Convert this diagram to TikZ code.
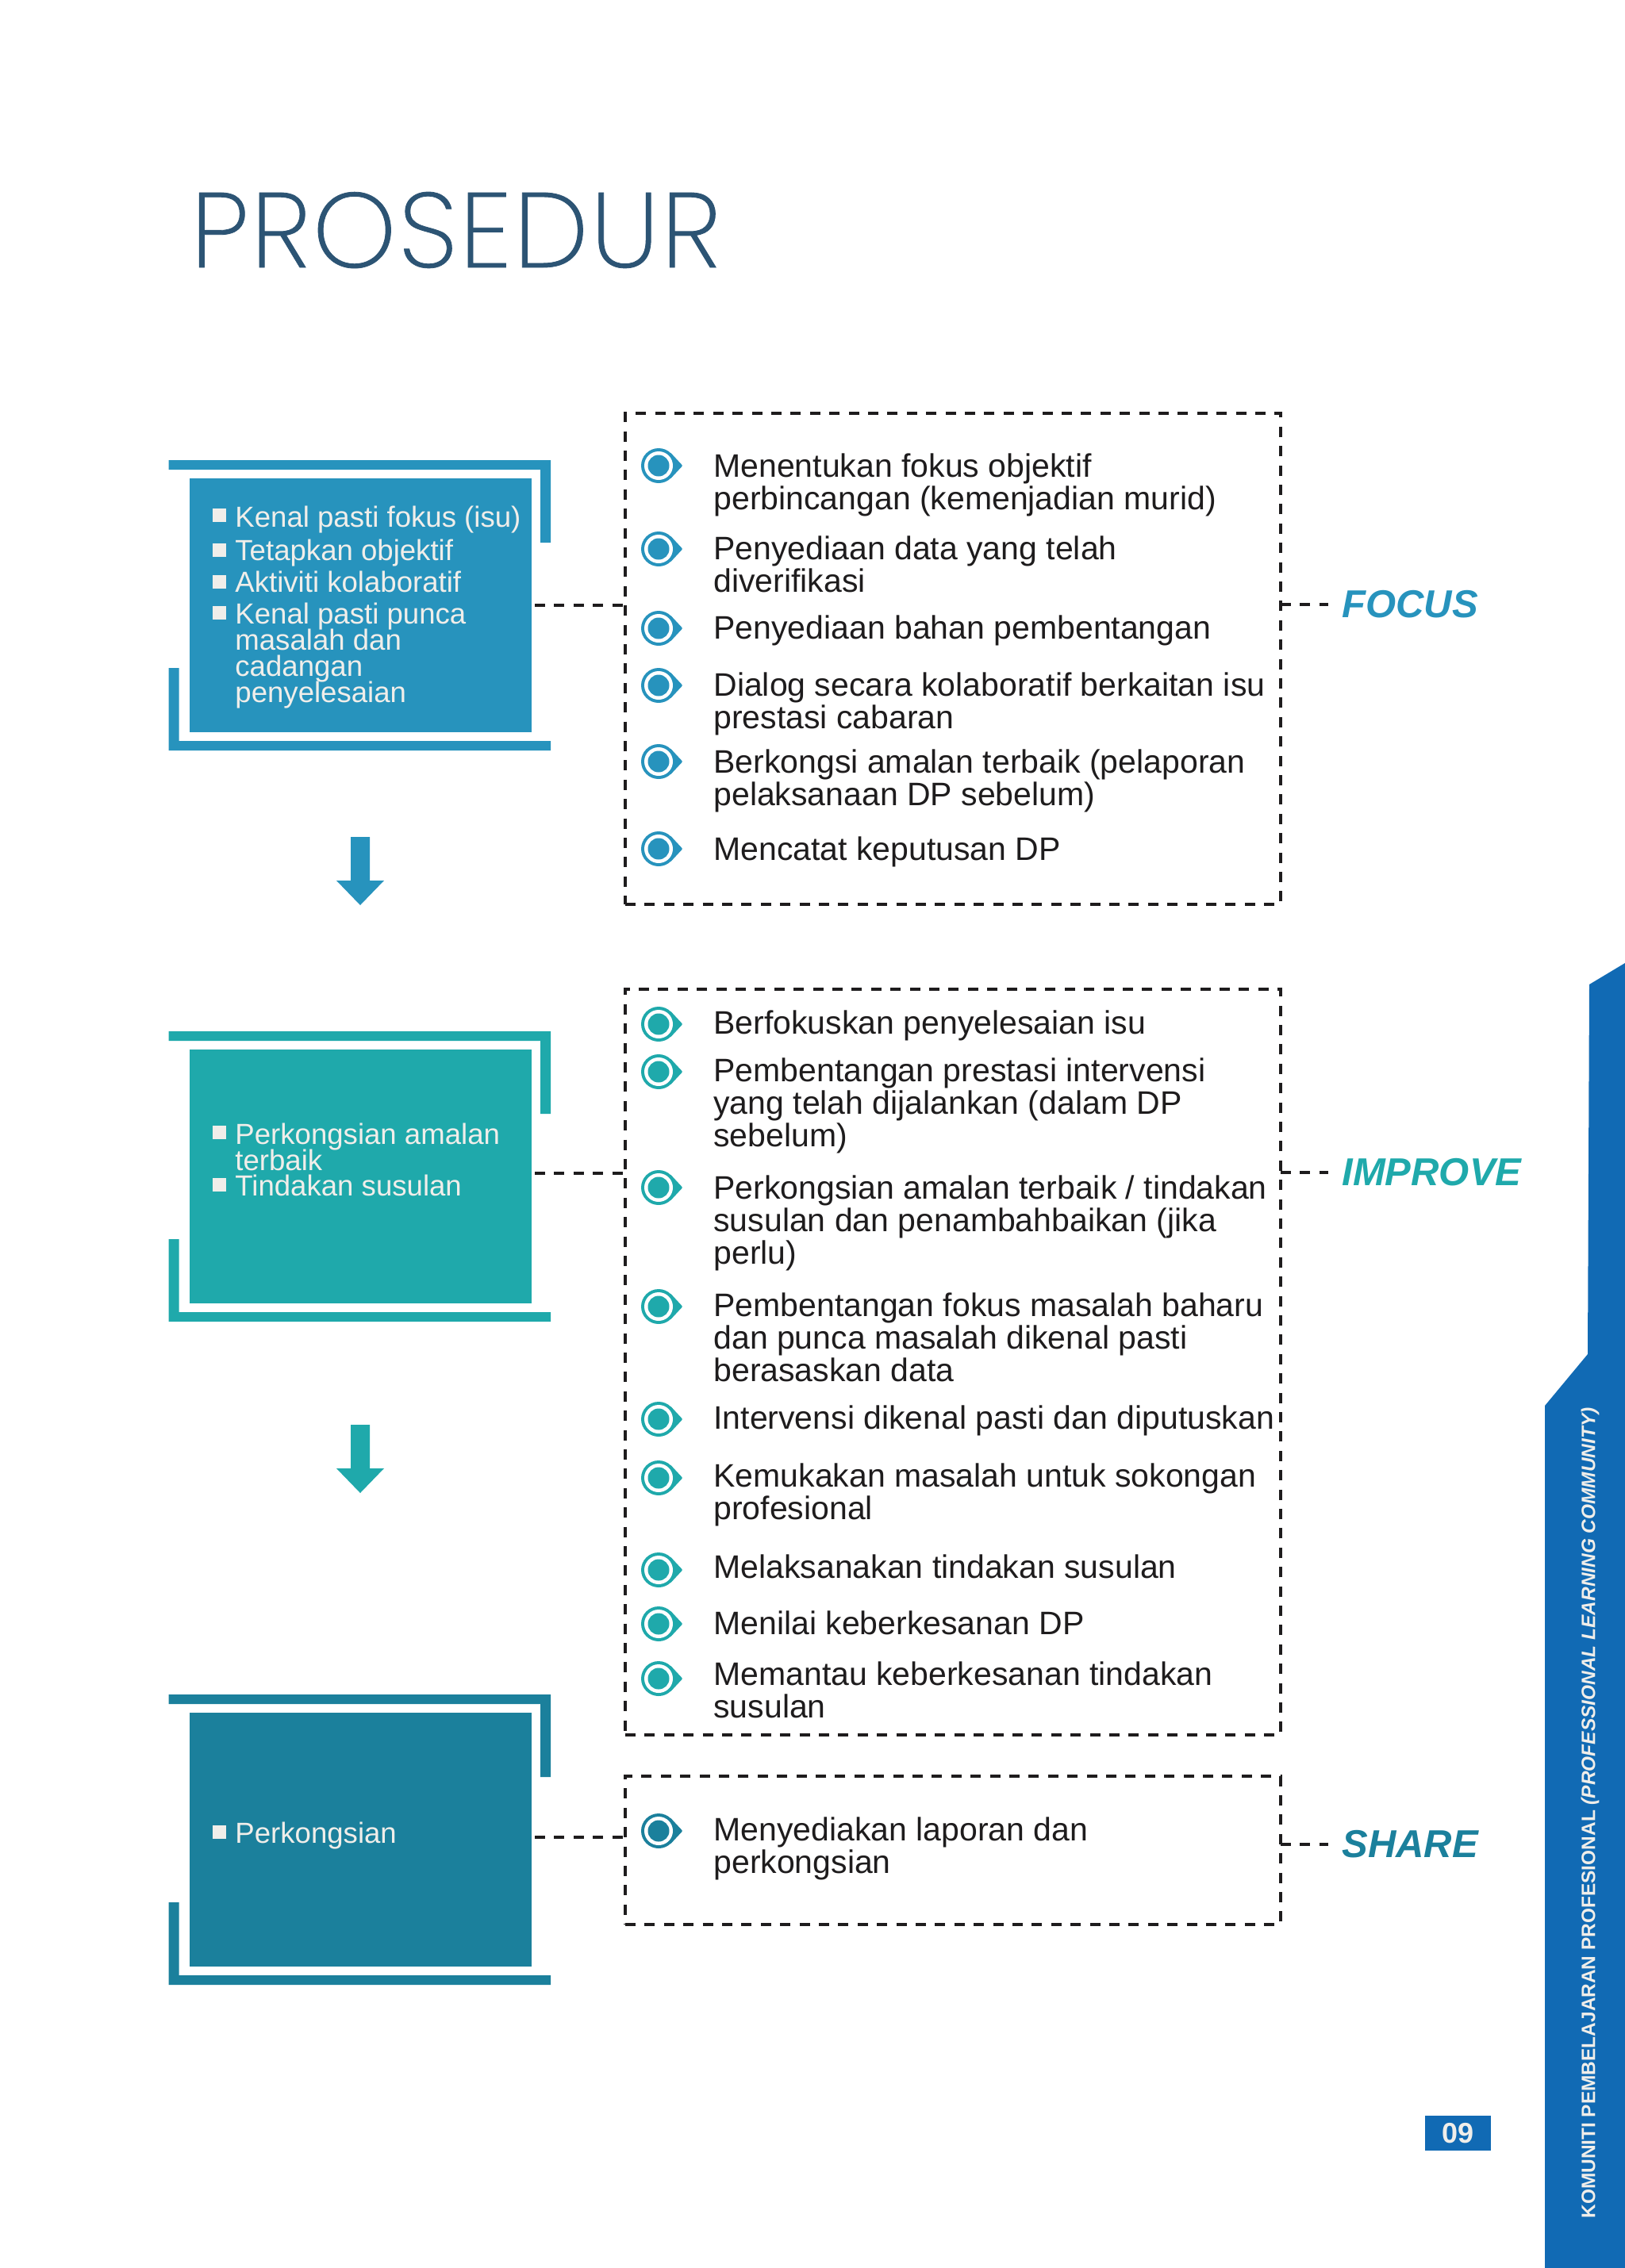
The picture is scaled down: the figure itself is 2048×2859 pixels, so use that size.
\documentclass[tikz,border=0pt]{standalone}
\usepackage{fontspec}
\setmainfont{Liberation Sans}
\newfontfamily\titlefont[FakeBold=0.6,LetterSpace=1.9]{Poppins ExtraLight}
\definecolor{cfocus}{HTML}{2793BD}
\definecolor{cimprove}{HTML}{1FA9AB}
\definecolor{cshare}{HTML}{1B809C}
\definecolor{cside}{HTML}{116AB4}
\definecolor{cinktext}{HTML}{1E1C1D}
\definecolor{cpale}{HTML}{F0EEEA}
\definecolor{ctitle}{HTML}{2C5474}
\AtBeginDocument{\lineskiplimit=-30pt\relax\normallineskiplimit=-30pt\relax}
\tikzset{
  boxnode/.style={fill=#1,minimum width=215.5pt,minimum height=160pt,inner sep=0pt,outer sep=0pt},
  dashline/.style={draw=cinktext,line width=2.1pt,dash pattern=on 6.5pt off 5.7pt},
  dashbox/.style={dashline,inner sep=0pt,outer sep=0pt,minimum width=413pt},
  itemtext/.style={anchor=north west,inner sep=0pt,align=left,text=cinktext,font=\fontsize{20.5}{20.4}\selectfont},
  whitetext/.style={anchor=north west,inner sep=0pt,align=left,text=cpale,font=\fontsize{18.3}{16.5}\selectfont},
  steplabel/.style={anchor=west,inner sep=0pt,text=#1,font=\fontsize{24.5}{24.5}\selectfont\bfseries\itshape},
  bulletsq/.style={fill=cpale,minimum size=8.5pt,inner sep=0pt},
  eye/.pic={
    \fill[#1] (0,0) circle[radius=22];
    \fill[#1,line join=round,draw=#1,line width=1pt] (15,-15) -- (29,0) -- (15,15) -- cycle;
    \fill[white] (0,0) circle[radius=18];
    \fill[#1] (0,0) circle[radius=13.5];
  },
  bracket/.pic={
    \fill[#1] (-242,-183) -- (239.5,-183) -- (239.5,-79) -- (226.5,-79) -- (226.5,-171) -- (-242,-171) -- cycle;
    \fill[#1] (-242,183) -- (239.5,183) -- (239.5,171) -- (-229,171) -- (-229,79) -- (-242,79) -- cycle;
  },
  downarrow/.pic={
    \fill[#1] (-12,0) -- (12,0) -- (12,55) -- (30,55) -- (0,86) -- (-30,55) -- (-12,55) -- cycle;
  }
}
\newcommand{\eyeitem}[5]{% name, colour, eye y, first-line centre y, lines
  \pic at (830,#3) {eye=#2};
  \node[itemtext] (#1) at (899,#4-16.5) {\strut #5};
}
\newcommand{\whiteitem}[4]{% name, bullet y, first-line centre y, lines
  \node[bulletsq] (#1b) at (276,#2) {};
  \node[whitetext] (#1) at (296,#3-13.6) {\strut #4};
}
\begin{document}
\begin{tikzpicture}[x=0.5pt,y=-0.5pt]
\useasboundingbox (0,0) rectangle (2048,2859);
\fill[white] (0,0) rectangle (2048,2859);

% side band
\fill[cside] (2048,1214) -- (2003,1241) -- (2001,1707) -- (1947,1772) -- (1947,2859) -- (2048,2859) -- cycle;
\node[rotate=90,anchor=west,inner sep=0pt,text=cpale,font=\fontsize{12.22}{12.22}\selectfont\bfseries] (sidetext) at (2004,2797)
  {KOMUNITI PEMBELAJARAN PROFESIONAL {\itshape(PROFESSIONAL LEARNING COMMUNITY)}};
\node[fill=cside,minimum width=41.5pt,minimum height=22pt,inner sep=0pt,text=cpale,font=\fontsize{18}{18}\selectfont\bfseries] (pagenum) at (1837.5,2689) {09};

% title
\node[anchor=base west,inner sep=0pt,text=ctitle,font=\fontsize{67}{67}\selectfont\titlefont] (title) at (240,337) {PROSEDUR};

% left boxes
\pic at (454.5,763) {bracket=cfocus};
\node[boxnode=cfocus] (b1) at (454.5,763) {};
\pic at (454.5,1483) {bracket=cimprove};
\node[boxnode=cimprove] (b2) at (454.5,1483) {};
\pic at (454.5,2319) {bracket=cshare};
\node[boxnode=cshare] (b3) at (454.5,2319) {};

\whiteitem{w1}{649}{651}{Kenal pasti fokus (isu)}
\whiteitem{w2}{693}{693}{Tetapkan objektif}
\whiteitem{w3}{733}{733}{Aktiviti kolaboratif}
\whiteitem{w4}{772}{773}{Kenal pasti punca\\masalah dan\\cadangan\\penyelesaian}
\whiteitem{w5}{1427}{1429}{Perkongsian amalan\\terbaik}
\whiteitem{w6}{1493}{1494}{Tindakan susulan}
\whiteitem{w7}{2309}{2310}{Perkongsian}

% arrows
\pic at (454,1055) {downarrow=cfocus};
\pic at (454,1796) {downarrow=cimprove};

% dashed boxes
\node[dashbox,minimum height=309.5pt] (d1) at (1201,830.5) {};
\node[dashbox,minimum height=470pt] (d2) at (1201,1717) {};
\node[dashbox,minimum height=93.5pt] (d3) at (1201,2332.5) {};

% step labels
\node[steplabel=cfocus] (lf) at (1691,762) {FOCUS};
\node[steplabel=cimprove] (li) at (1691,1478) {IMPROVE};
\node[steplabel=cshare] (ls) at (1691,2325) {SHARE};

% connectors
\draw[dashline] ([xshift=2pt]b1.east) -- (b1.east -| d1.west);
\draw[dashline] ([xshift=2pt,yshift=2pt]b2.east) -- ([yshift=2pt]b2.east -| d2.west);
\draw[dashline] ([xshift=2pt,yshift=1.5pt]b3.east) -- ([yshift=1.5pt]b3.east -| d3.west);
\draw[dashline] (lf.west -| d1.east) -- ([xshift=-8.5pt]lf.west);
\draw[dashline] (li.west -| d2.east) -- ([xshift=-8.5pt]li.west);
\draw[dashline] (ls.west -| d3.east) -- ([xshift=-8.5pt]ls.west);

% focus items
\eyeitem{f1}{cfocus}{587}{588}{Menentukan fokus objektif\\perbincangan (kemenjadian murid)}
\eyeitem{f2}{cfocus}{692}{692}{Penyediaan data yang telah\\diverifikasi}
\eyeitem{f3}{cfocus}{792}{792}{Penyediaan bahan pembentangan}
\eyeitem{f4}{cfocus}{864}{864}{Dialog secara kolaboratif berkaitan isu\\prestasi cabaran}
\eyeitem{f5}{cfocus}{960}{961}{Berkongsi amalan terbaik (pelaporan\\pelaksanaan DP sebelum)}
\eyeitem{f6}{cfocus}{1070}{1071}{Mencatat keputusan DP}

% improve items
\eyeitem{i1}{cimprove}{1291}{1290}{Berfokuskan penyelesaian isu}
\eyeitem{i2}{cimprove}{1351}{1350}{Pembentangan prestasi intervensi\\yang telah dijalankan (dalam DP\\sebelum)}
\eyeitem{i3}{cimprove}{1497}{1498}{Perkongsian amalan terbaik / tindakan\\susulan dan penambahbaikan (jika\\perlu)}
\eyeitem{i4}{cimprove}{1647}{1646}{Pembentangan fokus masalah baharu\\dan punca masalah dikenal pasti\\berasaskan data}
\eyeitem{i5}{cimprove}{1789}{1788}{Intervensi dikenal pasti dan diputuskan}
\eyeitem{i6}{cimprove}{1863}{1861}{Kemukakan masalah untuk sokongan\\profesional}
\eyeitem{i7}{cimprove}{1979}{1976}{Melaksanakan tindakan susulan}
\eyeitem{i8}{cimprove}{2047}{2047}{Menilai keberkesanan DP}
\eyeitem{i9}{cimprove}{2116}{2111}{Memantau keberkesanan tindakan\\susulan}

% share item
\eyeitem{s1}{cshare}{2308}{2307}{Menyediakan laporan dan\\perkongsian}
\end{tikzpicture}
\end{document}
